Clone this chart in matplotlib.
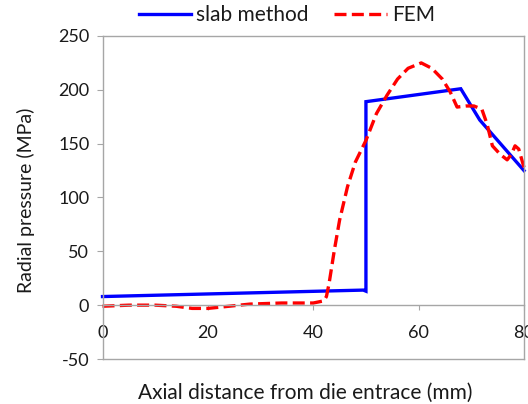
import matplotlib.pyplot as plt

plt.rcParams['font.family'] = ['Lato', 'DejaVu Sans']
plt.rcParams['axes.unicode_minus'] = False

slab_x = [0, 49.5, 50, 50, 68, 71.6, 80]
slab_y = [8, 14, 13, 189, 201, 172, 125]

fem_x = [0, 5, 10, 14, 17, 20, 24, 28, 34, 40, 42, 42.5, 43, 44, 45, 46.5, 48, 50, 52, 54, 56,
         58, 60.5, 62.5, 64.5, 66, 67.3, 69, 70.5, 72, 73, 74, 75.5, 76.8, 77.6, 78.3, 79, 80]
fem_y = [-1, 0, 0, -1, -3, -3, -1, 1, 2, 2, 4, 8, 20, 51, 79, 110, 133, 153, 178, 195, 210,
         220, 225, 220, 210, 198, 184, 185, 185, 182, 168, 148, 140, 135, 140, 148, 145, 128]

xticks = [0, 20, 40, 60, 80]
yticks = [-50, 0, 50, 100, 150, 200, 250]

fig = plt.figure(figsize=(5.28, 4.04), dpi=100)
ax = fig.add_axes([102.5 / 528, 45 / 404, (524 - 102.5) / 528, (359 - 36) / 404])

gray = '#a6a6a6'
txt = '#1a1a1a'

p1, = ax.plot(slab_x, slab_y, color='#0000ff', lw=2.4, label='slab method', clip_on=False,
              solid_joinstyle='miter')
p2, = ax.plot(fem_x, fem_y, color='#ff0000', lw=2.4, dashes=(3.6, 1.6), label='FEM', clip_on=False)

ax.set_xlim(0, 80)
ax.set_ylim(-50, 250)
ax.set_xticks(xticks)
ax.set_yticks(yticks)

for s in ['top', 'right', 'left', 'bottom']:
    ax.spines[s].set_color(gray)
    ax.spines[s].set_linewidth(1.0)
ax.spines['bottom'].set_position(('data', 0))
ax.axhline(-50, color=gray, lw=1.0, clip_on=False, zorder=0)

ax.tick_params(axis='y', direction='out', length=4.5, color=gray, labelsize=13, labelcolor=txt, pad=5)
ax.tick_params(axis='x', direction='out', length=3.6, color=gray, labelsize=13, labelcolor=txt, pad=11)

ax.set_ylabel('Radial pressure (MPa)', fontsize=14, color=txt)
ax.yaxis.set_label_coords(-0.16, 0.49)
ax.set_xlabel('Axial distance from die entrace (mm)', fontsize=15, color=txt)
ax.xaxis.set_label_coords(0.48, -0.075)

ax.legend(handles=[p1, p2], loc='center', bbox_to_anchor=(0.437, 1.065), ncol=2, frameon=False,
          fontsize=15, handlelength=2.5, columnspacing=1.25, handletextpad=0.25, labelcolor=txt)

fig.savefig('out.png', dpi=100)
